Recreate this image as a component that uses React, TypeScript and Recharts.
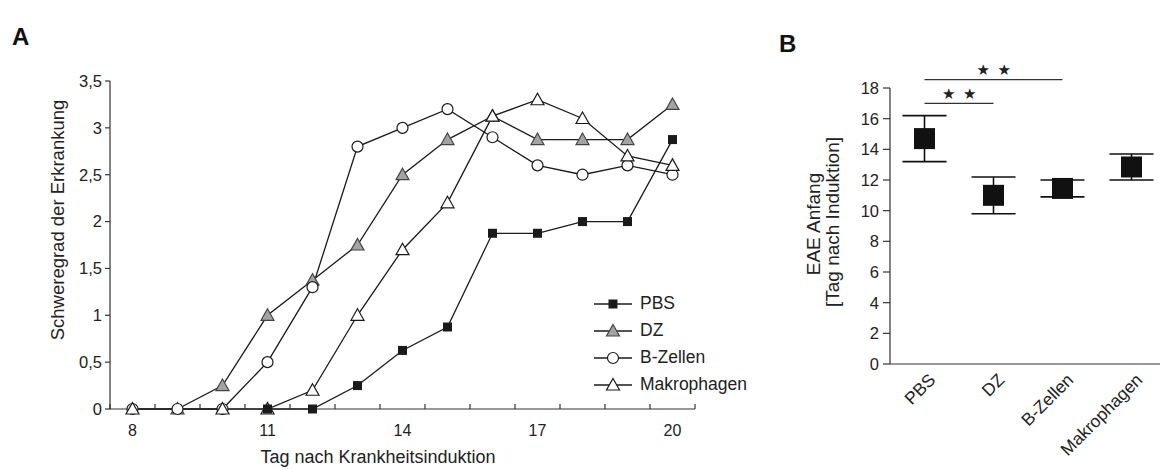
import React from 'react';
import {
  LineChart,
  Line,
  XAxis,
  YAxis,
  Legend,
  ComposedChart,
  Scatter,
  ErrorBar,
  ReferenceLine,
} from 'recharts';

// Panel A: disease score per day
const days = [8, 9, 10, 11, 12, 13, 14, 15, 16, 17, 18, 19, 20];
const pbs = [null, null, null, 0, 0, 0.25, 0.625, 0.875, 1.875, 1.875, 2, 2, 2.875];
const dz = [null, 0, 0.25, 1, 1.375, 1.75, 2.5, 2.875, 3.125, 2.875, 2.875, 2.875, 3.25];
const bZellen = [0, 0, 0, 0.5, 1.3, 2.8, 3, 3.2, 2.9, 2.6, 2.5, 2.6, 2.5];
const makrophagen = [0, null, 0, 0, 0.2, 1, 1.7, 2.2, 3.125, 3.3, 3.1, 2.7, 2.6];
const yTicksA = [0, 0.5, 1, 1.5, 2, 2.5, 3, 3.5];
const dayLabels = [8, 11, 14, 17, 20];
const halfDayTicks = [7.5, 8.5, 9.5, 10.5, 11.5, 12.5, 13.5, 14.5, 15.5, 16.5, 17.5, 18.5, 19.5, 20.5];

// Panel B: EAE onset
const groups = ['PBS', 'DZ', 'B-Zellen', 'Makrophagen'];
const onsetMean = [14.7, 11.0, 11.45, 12.85];
const onsetErr = [1.5, 1.2, 0.55, 0.85];
const yTicksB = [0, 2, 4, 6, 8, 10, 12, 14, 16, 18];

const FONT = '"Liberation Sans", Arial, Helvetica, sans-serif';
const INK = '#1a1a1a';
const AXIS = '#333';

const lineData = days.map((d, i) => ({
  day: d,
  pbs: pbs[i],
  dz: dz[i],
  bz: bZellen[i],
  mk: makrophagen[i],
}));

const onsetData = groups.map((g, i) => ({ name: g, mean: onsetMean[i], err: onsetErr[i] }));

type Kind = 'square' | 'grayTri' | 'circle' | 'openTri';

const Marker = ({ kind, cx, cy }: { kind: Kind; cx: number; cy: number }) => {
  if (kind === 'square') {
    return <rect x={cx - 4.5} y={cy - 4.5} width={9} height={9} fill={INK} />;
  }
  if (kind === 'circle') {
    return <circle cx={cx} cy={cy} r={5.5} fill="#fff" stroke={INK} strokeWidth={1.2} />;
  }
  const fill = kind === 'grayTri' ? '#a3a3a3' : '#fff';
  const stroke = kind === 'grayTri' ? '#444' : INK;
  return (
    <polygon
      points={`${cx},${cy - 6.5} ${cx + 6.5},${cy + 5} ${cx - 6.5},${cy + 5}`}
      fill={fill}
      stroke={stroke}
      strokeWidth={1.2}
    />
  );
};

const makeDot = (kind: Kind) => (props: any) => {
  const { cx, cy, index } = props;
  if (cx == null || cy == null || isNaN(cy)) return <g key={`${kind}-${index}`} />;
  return (
    <g key={`${kind}-${index}`}>
      <Marker kind={kind} cx={cx} cy={cy} />
    </g>
  );
};

const series = [
  { key: 'dz', name: 'DZ', kind: 'grayTri' as Kind },
  { key: 'bz', name: 'B-Zellen', kind: 'circle' as Kind },
  { key: 'mk', name: 'Makrophagen', kind: 'openTri' as Kind },
  { key: 'pbs', name: 'PBS', kind: 'square' as Kind },
];
const legendOrder = ['pbs', 'dz', 'bz', 'mk'];

const renderLegend = () => (
  <div style={{ fontFamily: FONT }}>
    {legendOrder.map((k) => {
      const s = series.find((x) => x.key === k)!;
      return (
        <div key={k} style={{ display: 'flex', alignItems: 'center', height: 27 }}>
          <svg width={42} height={16} style={{ display: 'block' }}>
            <line x1={2} x2={40} y1={8} y2={8} stroke={INK} strokeWidth={1.3} />
            <Marker kind={s.kind} cx={21} cy={8} />
          </svg>
          <span style={{ fontSize: 17.5, color: '#222', marginLeft: 6 }}>{s.name}</span>
        </div>
      );
    })}
  </div>
);

const DayTick = (props: any) => {
  const { x, y, payload } = props;
  const v = payload.value;
  if (v % 1 !== 0) {
    return <line x1={x} x2={x} y1={y} y2={y - 5} stroke={AXIS} strokeWidth={1.2} />;
  }
  return (
    <text x={x} y={y + 27} textAnchor="middle" fontSize={16} fill="#222" fontFamily={FONT}>
      {v}
    </text>
  );
};

const GroupTick = (props: any) => {
  const { x, y, payload } = props;
  const tx = x + 12;
  const ty = y + 17;
  return (
    <text
      x={tx}
      y={ty}
      transform={`rotate(-45 ${tx} ${ty})`}
      textAnchor="end"
      fontSize={17.5}
      fill="#222"
      fontFamily={FONT}
    >
      {payload.value}
    </text>
  );
};

const xTicksA = [...halfDayTicks, ...dayLabels].sort((a, b) => a - b);

const starLabel = (props: any) => {
  const { viewBox } = props;
  return (
    <text
      x={viewBox.x + viewBox.width / 2 + 1}
      y={viewBox.y - 4.5}
      textAnchor="middle"
      fontSize={15}
      letterSpacing={1.5}
      fill="#222"
      fontFamily='"DejaVu Sans", sans-serif'
    >
      ★ ★
    </text>
  );
};

const App = () => {
  return (
    <div
      style={{
        position: 'absolute',
        left: 0,
        top: 0,
        width: 1160,
        height: 469,
        overflow: 'hidden',
        background: '#fff',
        fontFamily: FONT,
      }}
    >
      <div style={{ position: 'absolute', left: 0, top: 0 }}>
        <LineChart
          width={720}
          height={469}
          data={lineData}
          margin={{ top: 81, right: 25, bottom: 0, left: 20 }}
        >
          <XAxis
            dataKey="day"
            type="number"
            domain={[7.5, 20.5]}
            ticks={xTicksA}
            interval={0}
            tickLine={false}
            tickSize={0}
            tickMargin={0}
            tick={DayTick}
            height={60}
            axisLine={{ stroke: AXIS, strokeWidth: 1.2 }}
            label={{
              content: () => (
                <text x={378} y={463} textAnchor="middle" fontSize={18} fill="#222" fontFamily={FONT}>
                  Tag nach Krankheitsinduktion
                </text>
              ),
            }}
          />
          <YAxis
            type="number"
            domain={[0, 3.5]}
            ticks={yTicksA}
            interval={0}
            width={90}
            tickSize={5}
            tickMargin={3}
            tickFormatter={(v: number) => String(v).replace('.', ',')}
            tick={{ fontSize: 16.5, fill: '#222', fontFamily: FONT }}
            axisLine={{ stroke: AXIS, strokeWidth: 1.2 }}
            tickLine={{ stroke: AXIS, strokeWidth: 1.2 }}
            label={{
              content: () => (
                <text
                  x={64}
                  y={220}
                  transform="rotate(-90 64 220)"
                  textAnchor="middle"
                  fontSize={18.5}
                  fill="#222"
                  fontFamily={FONT}
                >
                  Schweregrad der Erkrankung
                </text>
              ),
            }}
          />
          <Legend
            layout="vertical"
            align="center"
            verticalAlign="middle"
            content={renderLegend}
            wrapperStyle={{ left: 592, top: 290, width: 180 }}
          />
          {series.map((s) => (
            <Line
              key={s.key}
              type="linear"
              dataKey={s.key}
              name={s.name}
              stroke={INK}
              strokeWidth={1.3}
              dot={makeDot(s.kind)}
              activeDot={false}
              connectNulls
              isAnimationActive={false}
            />
          ))}
        </LineChart>
      </div>

      <div style={{ position: 'absolute', left: 740, top: 0 }}>
        <ComposedChart
          width={426}
          height={469}
          data={onsetData}
          margin={{ top: 88, right: 0, bottom: 0, left: 40 }}
        >
          <XAxis
            dataKey="name"
            type="category"
            scale="band"
            interval={0}
            tickLine={false}
            tickSize={0}
            tickMargin={0}
            tick={GroupTick}
            height={105}
            axisLine={{ stroke: AXIS, strokeWidth: 1.2 }}
          />
          <YAxis
            type="number"
            domain={[0, 18]}
            ticks={yTicksB}
            interval={0}
            width={110}
            tickSize={7}
            tickMargin={4}
            tick={{ fontSize: 16.5, fill: '#222', fontFamily: FONT }}
            axisLine={{ stroke: AXIS, strokeWidth: 1.2 }}
            tickLine={{ stroke: AXIS, strokeWidth: 1.2 }}
            label={{
              content: () => (
                <g fontFamily={FONT} fontSize={19} fill="#222">
                  <text x={80} y={224} transform="rotate(-90 80 224)" textAnchor="middle">
                    EAE Anfang
                  </text>
                  <text x={99} y={222} transform="rotate(-90 99 222)" textAnchor="middle">
                    [Tag nach Induktion]
                  </text>
                </g>
              ),
            }}
          />
          <ReferenceLine
            segment={[
              { x: 'PBS', y: 17 },
              { x: 'DZ', y: 17 },
            ]}
            stroke={AXIS}
            strokeWidth={1.2}
            ifOverflow="visible"
            label={starLabel}
          />
          <ReferenceLine
            segment={[
              { x: 'PBS', y: 18.55 },
              { x: 'B-Zellen', y: 18.55 },
            ]}
            stroke={AXIS}
            strokeWidth={1.2}
            ifOverflow="visible"
            label={starLabel}
          />
          <Scatter
            dataKey="mean"
            fill={INK}
            isAnimationActive={false}
            shape={(p: any) => (
              <rect x={p.cx - 10.5} y={p.cy - 10.5} width={21} height={21} fill="#111" />
            )}
          >
            <ErrorBar dataKey="err" direction="y" width={22} stroke="#111" strokeWidth={1.6} />
          </Scatter>
        </ComposedChart>
      </div>

      <svg
        width={1160}
        height={469}
        style={{ position: 'absolute', left: 0, top: 0, pointerEvents: 'none' }}
      >
        <text x={12} y={45} fontSize={24} fontWeight="bold" fill="#111" fontFamily={FONT}>
          A
        </text>
        <text x={779} y={52} fontSize={24} fontWeight="bold" fill="#111" fontFamily={FONT}>
          B
        </text>
      </svg>
    </div>
  );
};

export default App;
